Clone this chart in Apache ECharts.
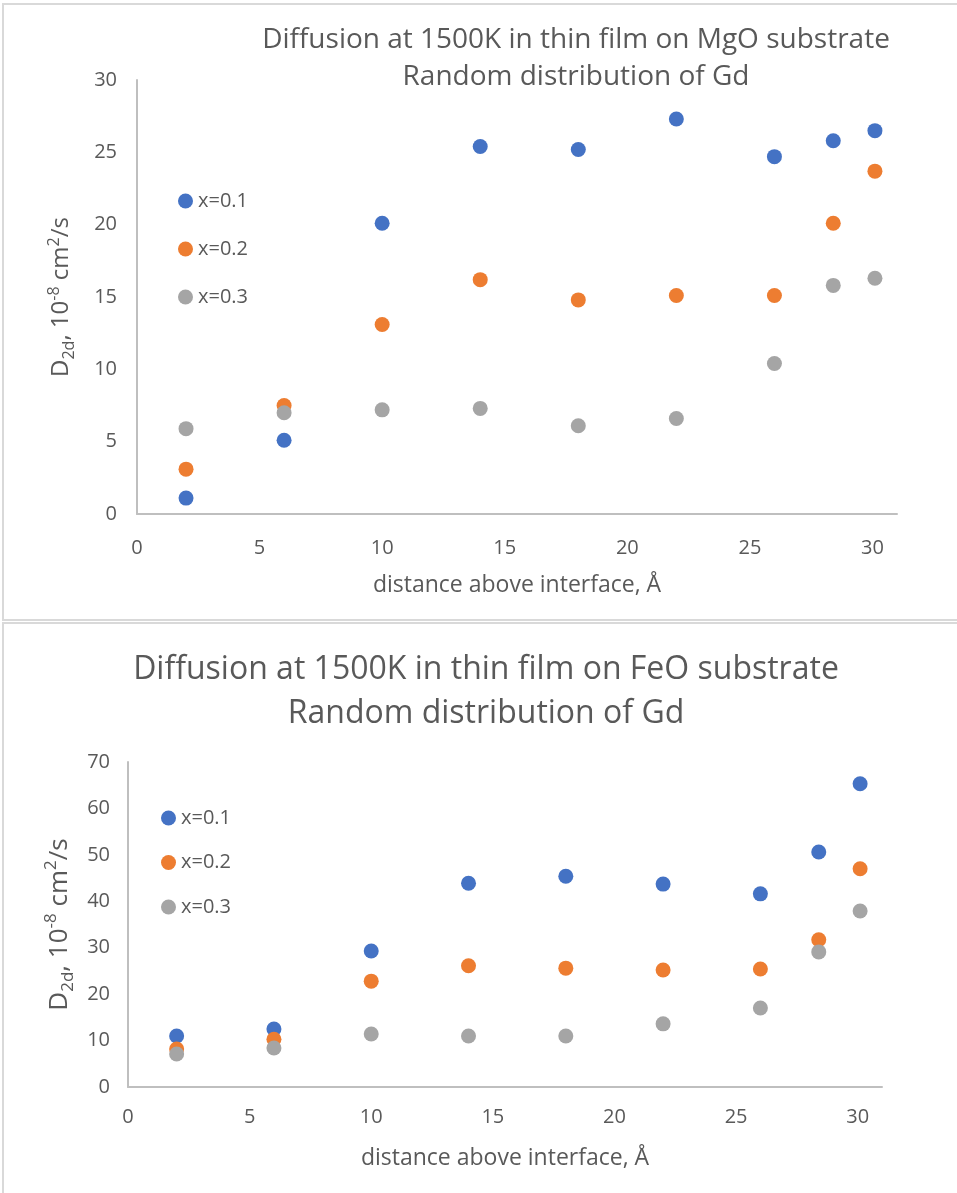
<!DOCTYPE html>
<html>
<head>
<meta charset="utf-8">
<script src="https://cdn.jsdelivr.net/npm/echarts@6/dist/echarts.min.js"></script>
<style>
html,body{margin:0;padding:0;background:#fff;}
#c{width:957px;height:1193px;}
</style>
</head>
<body>
<div id="c"></div>
<script>
// distance above interface (Å)
const distances = [2, 6, 10, 14, 18, 22, 26, 28.4, 30.1];
const seriesNames = ['x=0.1', 'x=0.2', 'x=0.3'];
// MgO substrate, D2d (10^-8 cm^2/s)
const mgo_x01 = [1.1, 5.1, 20.1, 25.4, 25.2, 27.3, 24.7, 25.8, 26.5];
const mgo_x02 = [3.1, 7.5, 13.1, 16.2, 14.8, 15.1, 15.1, 20.1, 23.7];
const mgo_x03 = [5.9, 7.0, 7.2, 7.3, 6.1, 6.6, 10.4, 15.8, 16.3];
// FeO substrate
const feo_x01 = [11.0, 12.5, 29.3, 43.9, 45.4, 43.7, 41.6, 50.6, 65.3];
const feo_x02 = [8.2, 10.3, 22.8, 26.1, 25.6, 25.2, 25.4, 31.7, 47.0];
const feo_x03 = [7.1, 8.4, 11.4, 11.0, 11.0, 13.6, 17.0, 29.1, 37.9];
const titleTop = 'Diffusion at 1500K in thin film on MgO substrate\nRandom distribution of Gd';
const titleBottom = 'Diffusion at 1500K in thin film on FeO substrate\nRandom distribution of Gd';
const xName = 'distance above interface, Å';

const colors = ['#4472C4', '#ED7D31', '#A5A5A5'];
const FONT = '"Open Sans", sans-serif';
const TXT = '#595959';

function pairs(xs, ys) { return xs.map((x, i) => [x, ys[i]]); }

function yNameRich(fs) {
  const s = Math.round(fs * 0.65);
  return {
    m: { fontSize: fs, lineHeight: Math.round(fs * 1.3), color: TXT, fontFamily: FONT },
    sub: { fontSize: s, lineHeight: s, verticalAlign: 'bottom', color: TXT, fontFamily: FONT },
    sup: { fontSize: s, lineHeight: s, verticalAlign: 'top', color: TXT, fontFamily: FONT }
  };
}
const yName = '{m|D}{sub|2d}{m|, 10}{sup|-8}{m| cm}{sup|2}{m|/s}';

function xAxis(gi, gap) {
  return {
    type: 'value', gridIndex: gi, min: 0, max: 31, interval: 5,
    axisLine: { show: true, lineStyle: { color: '#BFBFBF', width: 2 } },
    axisTick: { show: false }, splitLine: { show: false },
    axisLabel: { color: TXT, fontSize: 20, fontFamily: FONT, margin: gap, showMaxLabel: false },
    name: xName, nameLocation: 'middle', nameGap: 60,
    nameTextStyle: { color: TXT, fontSize: 23, fontFamily: FONT }
  };
}
function yAxis(gi, max, interval, nameGap, margin, nfs) {
  return {
    type: 'value', gridIndex: gi, min: 0, max: max, interval: interval,
    axisLine: { show: true, lineStyle: { color: '#BFBFBF', width: 2 } },
    axisTick: { show: false }, splitLine: { show: false },
    axisLabel: { color: TXT, fontSize: 20, fontFamily: FONT, margin: margin },
    name: yName, nameLocation: 'middle', nameGap: nameGap, nameRotate: 90,
    nameTextStyle: { rich: yNameRich(nfs) }
  };
}
function scatter(name, xi, data, ci) {
  return {
    type: 'scatter', name: name, xAxisIndex: xi, yAxisIndex: xi,
    data: data, symbol: 'circle', symbolSize: 15,
    itemStyle: { color: colors[ci], opacity: 1 }
  };
}

const chart = echarts.init(document.getElementById('c'), null, { renderer: 'canvas' });
chart.setOption({
  animation: false,
  backgroundColor: '#fff',
  graphic: [
    { type: 'rect', shape: { x: 3, y: 4, width: 1000, height: 616 }, style: { fill: 'none', stroke: '#D9D9D9', lineWidth: 2 }, z: -10 },
    { type: 'rect', shape: { x: 3, y: 623, width: 1000, height: 600 }, style: { fill: 'none', stroke: '#D9D9D9', lineWidth: 2 }, z: -10 }
  ],
  title: [
    { text: titleTop, left: 571, top: 17, textAlign: 'center',
      textStyle: { color: TXT, fontSize: 28, fontWeight: 'normal', fontFamily: FONT, lineHeight: 37 } },
    { text: titleBottom, left: 481, top: 643, textAlign: 'center',
      textStyle: { color: TXT, fontSize: 32, fontWeight: 'normal', fontFamily: FONT, lineHeight: 44 } }
  ],
  legend: [
    { data: seriesNames, orient: 'vertical', left: 173, top: 186, itemWidth: 15, itemHeight: 15, itemGap: 28,
      icon: 'circle', textStyle: { color: TXT, fontSize: 20, fontFamily: FONT }, selectedMode: false },
    { data: seriesNames, orient: 'vertical', left: 156, top: 803, itemWidth: 15, itemHeight: 15, itemGap: 24.5,
      icon: 'circle', textStyle: { color: TXT, fontSize: 20, fontFamily: FONT }, selectedMode: false }
  ],
  grid: [
    { left: 137, right: 60, top: 80, bottom: 679, containLabel: false },
    { left: 128, right: 75, top: 762, bottom: 106, containLabel: false }
  ],
  xAxis: [xAxis(0, 24), xAxis(1, 20)],
  yAxis: [yAxis(0, 30, 5, 60, 20, 24), yAxis(1, 70, 10, 50, 18, 26)],
  series: [
    scatter(seriesNames[0], 0, pairs(distances, mgo_x01), 0),
    scatter(seriesNames[1], 0, pairs(distances, mgo_x02), 1),
    scatter(seriesNames[2], 0, pairs(distances, mgo_x03), 2),
    scatter(seriesNames[0], 1, pairs(distances, feo_x01), 0),
    scatter(seriesNames[1], 1, pairs(distances, feo_x02), 1),
    scatter(seriesNames[2], 1, pairs(distances, feo_x03), 2)
  ]
});
</script>
</body>
</html>
